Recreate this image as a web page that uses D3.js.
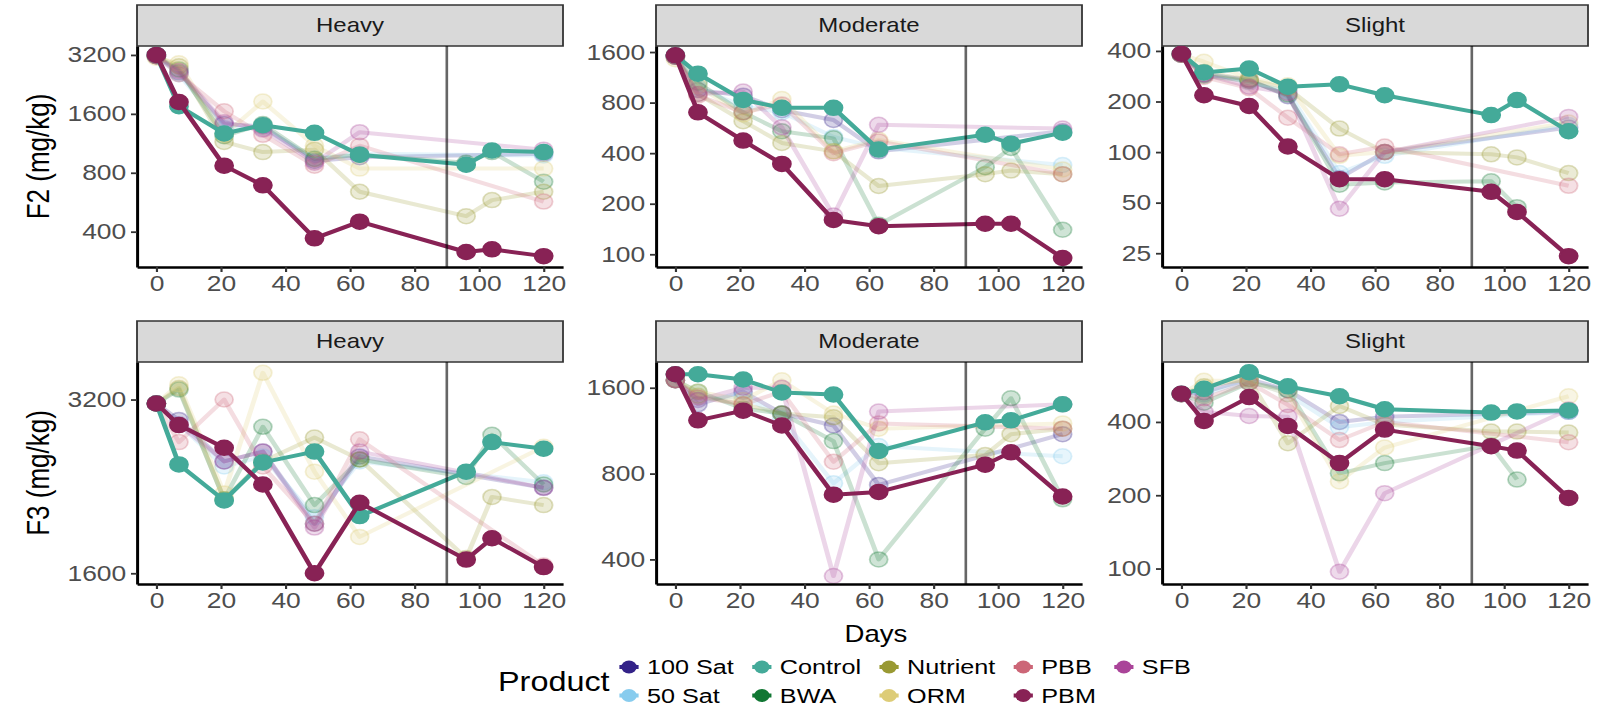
<!DOCTYPE html>
<html>
<head>
<meta charset="utf-8">
<script src="https://cdn.jsdelivr.net/npm/d3@7"></script>
<style>
  body { margin: 0; background: #fff; }
  text { font-family: "Liberation Sans", Arial, sans-serif; }
</style>
</head>
<body>
<svg id="chart"></svg>
<script>
// sampling days
const days = [0, 7, 21, 33, 49, 63, 96, 104, 120];
const dayTicks = [0, 20, 40, 60, 80, 100, 120];

const products = ["100 Sat", "50 Sat", "Control", "BWA", "Nutrient", "ORM", "PBB", "PBM", "SFB"];
const productColors = ["#332288", "#88CCEE", "#44AA99", "#117733", "#999933", "#DDCC77", "#CC6677", "#882255", "#AA4499"];
const highlighted = ["Control", "PBM"];

const fractions = ["F2 (mg/kg)", "F3 (mg/kg)"];
const severities = ["Heavy", "Moderate", "Slight"];

const f2Heavy = {
  "100 Sat":  [3150, 2600, 1420, 1380, 920, 960, null, null, 1000],
  "50 Sat":   [3150, 2550, 1350, 1350, 950, 1000, null, null, 980],
  "Control":  [3200, 1750, 1270, 1400, 1280, 990, 880, 1040, 1020],
  "BWA":      [3150, 2700, 1230, 1420, 940, 990, 900, 1020, 720],
  "Nutrient": [3150, 2800, 1150, 1020, 1050, 640, 480, 580, 640],
  "ORM":      [3100, 2900, 1250, 1850, 1100, 840, null, null, 840],
  "PBB":      [3150, 2550, 1650, 1250, 870, 1100, null, null, 570],
  "PBM":      [3200, 1840, 870, 690, 370, 450, 315, 325, 300],
  "SFB":      [3150, 2650, 1450, 1330, 900, 1290, null, null, 1050]
};
const f2Moderate = {
  "100 Sat":  [1500, 950, 880, 720, 630, 410, null, null, 540],
  "50 Sat":   [1500, 980, 760, 700, 500, 430, null, null, 340],
  "Control":  [1530, 1190, 830, 745, 745, 420, 515, 455, 530],
  "BWA":      [1500, 1050, 700, 540, 490, 150, 330, 430, 140],
  "Nutrient": [1500, 900, 620, 460, 410, 255, 300, 315, 300],
  "ORM":      [1450, 1000, 680, 840, 410, 480, null, null, 320],
  "PBB":      [1500, 880, 700, 780, 400, 470, null, null, 300],
  "PBM":      [1530, 700, 475, 345, 160, 147, 152, 152, 95],
  "SFB":      [1500, 900, 930, 570, 170, 590, null, null, 560]
};
const f2Slight = {
  "100 Sat":  [380, 290, 270, 215, 70, 100, null, null, 140],
  "50 Sat":   [380, 300, 260, 230, 75, 95, null, null, 145],
  "Control":  [385, 298, 314, 245, 253, 218, 166, 204, 133],
  "BWA":      [380, 285, 265, 220, 64, 66, 67, 47, null],
  "Nutrient": [380, 300, 270, 240, 138, 100, 97, 93, 75],
  "ORM":      [380, 345, 275, 250, 95, 100, null, null, 150],
  "PBB":      [380, 280, 240, 160, 97, 108, null, null, 63],
  "PBM":      [385, 218, 188, 108, 69, 69, 58, 44, 24],
  "SFB":      [380, 290, 245, 225, 46, 100, null, null, 162]
};
const f3Heavy = {
  "100 Sat":  [3150, 2950, 2500, 2600, 1950, 2550, null, null, 2250],
  "50 Sat":   [3150, 2900, 2450, 2550, 2000, 2500, null, null, 2300],
  "Control":  [3150, 2470, 2140, 2490, 2600, 2010, 2400, 2700, 2630],
  "BWA":      [3150, 3330, 2150, 2870, 2100, 2520, 2350, 2780, 2280],
  "Nutrient": [3150, 3350, 2150, 2500, 2750, 2520, 1700, 2170, 2100],
  "ORM":      [3150, 3400, 2200, 3560, 2400, 1850, null, null, 2650],
  "PBB":      [3150, 2700, 3200, 2450, 1950, 2730, null, null, 1650],
  "PBM":      [3150, 2890, 2640, 2280, 1600, 2120, 1690, 1840, 1640],
  "SFB":      [3150, 2900, 2500, 2600, 1920, 2600, null, null, 2250]
};
const f3Moderate = {
  "100 Sat":  [1700, 1400, 1550, 1300, 1180, 730, null, null, 1100],
  "50 Sat":   [1700, 1450, 1500, 1250, 740, 1000, null, null, 920],
  "Control":  [1785, 1785, 1710, 1540, 1515, 960, 1210, 1230, 1400],
  "BWA":      [1700, 1550, 1350, 1300, 1040, 400, 1150, 1470, 650],
  "Nutrient": [1700, 1500, 1400, 1300, 1260, 870, 930, 1100, 1150],
  "ORM":      [1700, 1550, 1450, 1700, 1300, 1150, null, null, 1200],
  "PBB":      [1700, 1480, 1400, 1550, 880, 1200, null, null, 1150],
  "PBM":      [1785, 1230, 1330, 1180, 675, 690, 860, 950, 665],
  "SFB":      [1700, 1450, 1600, 1600, 350, 1320, null, null, 1400]
};
const f3Slight = {
  "100 Sat":  [520, 530, 600, 540, 400, 420, null, null, 440],
  "50 Sat":   [520, 520, 590, 520, 380, 400, null, null, 440],
  "Control":  [522, 547, 640, 560, 510, 451, 437, 442, 446],
  "BWA":      [520, 480, 580, 540, 246, 271, 320, 232, null],
  "Nutrient": [520, 560, 600, 327, 465, 390, 365, 365, 362],
  "ORM":      [520, 590, 590, 520, 228, 314, null, null, 510],
  "PBB":      [520, 500, 580, 470, 337, 400, null, null, 330],
  "PBM":      [522, 404, 506, 385, 271, 372, 318, 305, 195],
  "SFB":      [520, 440, 423, 420, 97, 204, null, null, 450]
};

const f2HeavyTicks = [400, 800, 1600, 3200];
const f2ModerateTicks = [100, 200, 400, 800, 1600];
const f2SlightTicks = [25, 50, 100, 200, 400];
const f3HeavyTicks = [1600, 3200];
const f3ModerateTicks = [400, 800, 1600];
const f3SlightTicks = [100, 200, 400];

const panels = [
  { row: 0, col: 0, data: f2Heavy, ticks: f2HeavyTicks, domain: [264, 3555] },
  { row: 0, col: 1, data: f2Moderate, ticks: f2ModerateTicks, domain: [84, 1738] },
  { row: 0, col: 2, data: f2Slight, ticks: f2SlightTicks, domain: [20.7, 428] },
  { row: 1, col: 0, data: f3Heavy, ticks: f3HeavyTicks, domain: [1533, 3717] },
  { row: 1, col: 1, data: f3Moderate, ticks: f3ModerateTicks, domain: [328, 1970] },
  { row: 1, col: 2, data: f3Slight, ticks: f3SlightTicks, domain: [86.4, 705] }
];

// the picture is stretched horizontally, so draw in a narrower box and stretch it
const W = 1598, H = 706, SX = 1.2;
const colLeft = [137, 656, 1162].map(v => v / SX);
const panelW = 426 / SX;
const rowTop = [46, 362];
const rowBottom = [267, 584];
const stripH = 41;

const color = d3.scaleOrdinal().domain(products).range(productColors);

const svg = d3.select("#chart")
  .attr("width", W)
  .attr("height", H)
  .attr("viewBox", [0, 0, W / SX, H])
  .attr("preserveAspectRatio", "none");

panels.forEach(p => {
  const L = colLeft[p.col];
  const top = rowTop[p.row], bottom = rowBottom[p.row];

  const x = d3.scaleLinear().domain([-6, 126]).range([L, L + panelW]);
  const y = d3.scaleLog().base(2).domain(p.domain).range([bottom, top]);

  const g = svg.append("g");

  // strip
  g.append("rect")
    .attr("x", L).attr("y", top - stripH)
    .attr("width", panelW).attr("height", stripH)
    .attr("fill", "#d9d9d9").attr("stroke", "#333").attr("stroke-width", 1.5);
  g.append("text")
    .attr("x", L + panelW / 2).attr("y", top - stripH / 2)
    .attr("text-anchor", "middle").attr("dominant-baseline", "central")
    .attr("font-size", 20).attr("fill", "#1a1a1a")
    .text(severities[p.col]);

  const line = d3.line().x(d => x(d.day)).y(d => y(d.v));

  const order = products.filter(k => !highlighted.includes(k)).concat(highlighted);
  order.forEach(name => {
    const pts = days.map((d, i) => ({ day: d, v: p.data[name][i] })).filter(d => d.v != null);
    const hi = highlighted.includes(name);
    g.append("path")
      .datum(pts)
      .attr("d", line)
      .attr("fill", "none")
      .attr("stroke", color(name))
      .attr("stroke-width", 4)
      .attr("stroke-opacity", hi ? 1 : 0.22)
      .attr("stroke-linejoin", "round");
    g.selectAll(null)
      .data(pts)
      .enter()
      .append("circle")
      .attr("cx", d => x(d.day))
      .attr("cy", d => y(d.v))
      .attr("r", 7.5)
      .attr("fill", color(name))
      .attr("fill-opacity", hi ? 1 : 0.2)
      .attr("stroke", color(name))
      .attr("stroke-opacity", hi ? 1 : 0.3)
      .attr("stroke-width", 1.5);
  });

  // day 90 marker
  g.append("line")
    .attr("x1", x(90)).attr("x2", x(90))
    .attr("y1", top).attr("y2", bottom)
    .attr("stroke", "#000").attr("stroke-opacity", 0.6).attr("stroke-width", 2.2);

  const yAxis = g.append("g")
    .attr("transform", `translate(${L},0)`)
    .call(d3.axisLeft(y).tickValues(p.ticks).tickFormat(d3.format("d")).tickSize(5).tickSizeOuter(0).tickPadding(4));
  const xAxis = g.append("g")
    .attr("transform", `translate(0,${bottom})`)
    .call(d3.axisBottom(x).tickValues(dayTicks).tickSize(5).tickSizeOuter(0).tickPadding(3));

  [yAxis, xAxis].forEach(a => {
    a.select(".domain").attr("stroke", "#000").attr("stroke-width", 2.5);
    a.selectAll(".tick line").attr("stroke", "#333").attr("stroke-width", 1.8);
    a.selectAll(".tick text").attr("fill", "#4d4d4d").attr("font-size", 22)
      .attr("font-family", "'Liberation Sans', Arial, sans-serif");
  });
});

// axis titles
fractions.forEach((f, i) => {
  svg.append("text")
    .attr("transform", `translate(${38 / SX},${(rowTop[i] + rowBottom[i]) / 2}) rotate(-90)`)
    .attr("text-anchor", "middle").attr("dominant-baseline", "central")
    .attr("font-size", 26).attr("fill", "#000")
    .text(f);
});

svg.append("text")
  .attr("x", 876 / SX).attr("y", 634)
  .attr("text-anchor", "middle").attr("dominant-baseline", "central")
  .attr("font-size", 23).attr("fill", "#000")
  .text("Days");

// legend
const legend = svg.append("g");
legend.append("text")
  .attr("x", 498 / SX).attr("y", 681)
  .attr("dominant-baseline", "central")
  .attr("font-size", 27).attr("fill", "#000")
  .text("Product");

const legendRows = [667, 695.5];
let keyX = 629 / SX;
for (let c = 0; c < Math.ceil(products.length / 2); c++) {
  const col = products.slice(c * 2, c * 2 + 2);
  let maxW = 0;
  col.forEach((name, r) => {
    const ky = legendRows[r];
    legend.append("line")
      .attr("x1", keyX - 8).attr("x2", keyX + 8)
      .attr("y1", ky).attr("y2", ky)
      .attr("stroke", color(name)).attr("stroke-width", 4);
    legend.append("circle")
      .attr("cx", keyX).attr("cy", ky).attr("r", 6.5)
      .attr("fill", color(name));
    const t = legend.append("text")
      .attr("x", keyX + 18 / SX).attr("y", ky)
      .attr("dominant-baseline", "central")
      .attr("font-size", 21).attr("fill", "#000")
      .text(name);
    maxW = Math.max(maxW, t.node().getComputedTextLength());
  });
  keyX += maxW + 46 / SX;
}
</script>
</body>
</html>
